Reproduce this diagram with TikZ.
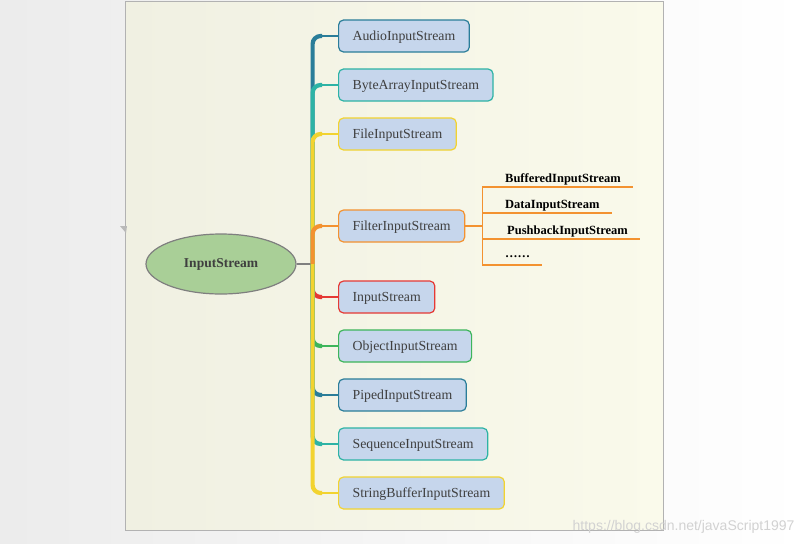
\documentclass[tikz,border=0pt]{standalone}
\usepackage{fontspec}
\setmainfont{Liberation Serif}
\newfontfamily\wmfont{Liberation Sans}
\usetikzlibrary{calc, positioning, shapes.geometric}
\definecolor{boxblue}{HTML}{C6D6EC}
\definecolor{boxtext}{HTML}{3F3F3F}
\definecolor{rootgreen}{HTML}{A9CF97}
\definecolor{rootline}{HTML}{7F7F7F}
\definecolor{cteal}{HTML}{2A7D99}
\definecolor{cturq}{HTML}{2DB3A5}
\definecolor{cyellow}{HTML}{F2D330}
\definecolor{corange}{HTML}{F39230}
\definecolor{cred}{HTML}{E53935}
\definecolor{cgreen}{HTML}{3DB55B}
\definecolor{panelleft}{HTML}{F0F0E2}
\definecolor{panelright}{HTML}{FAFAEB}

\begin{document}
\begin{tikzpicture}
		[x=1pt, y=-1pt,
		cls/.style={draw, rounded corners=5pt, fill=boxblue, line width=1.2pt, minimum height=32pt, inner xsep=14pt, text height=10pt, text depth=0.8pt, text=boxtext, font=\fontsize{13.8}{15}\selectfont},
		root/.style={ellipse, draw=rootline, line width=1.2pt, fill=rootgreen, minimum width=150pt, minimum height=60pt, text=boxtext, font=\bfseries\fontsize{13.5}{15}\selectfont},
		sub/.style={inner sep=2pt, anchor=south west, font=\bfseries\fontsize{12.5}{14}\selectfont},
		trunk/.style={line width=4.2pt, rounded corners=8pt},
		twig/.style={line width=1.8pt},
		subline/.style={corange, line width=1.4pt}]
		% page and panel
		\useasboundingbox (0,0) rectangle (804,544);
		\fill[left color=gray!15, right color=white] (0,0) rectangle (804,544);
		\draw[gray!60, line width=1pt, left color=panelleft, right color=panelright] (125,1) rectangle (663,530);
		\fill[gray!55] (120,226) -- (127,226) -- (126,233) -- cycle;

		\node[root] (root) at (221,264) {InputStream};
		\coordinate (hub) at ([xshift=16pt]root.east);

		\node[cls, draw=cteal, anchor=west] (audio) at (338,36) {AudioInputStream};
		\node[cls, draw=cturq, below=15.8pt of audio.south west, anchor=north west] (bytearr) {ByteArrayInputStream};
		\node[cls, draw=cyellow, below=15.8pt of bytearr.south west, anchor=north west] (file) {FileInputStream};
		\node[cls, draw=corange, below=58.8pt of file.south west, anchor=north west] (filter) {FilterInputStream};
		\node[cls, draw=cred, below=37.8pt of filter.south west, anchor=north west] (input) {InputStream};
		\node[cls, draw=cgreen, below=15.8pt of input.south west, anchor=north west] (object) {ObjectInputStream};
		\node[cls, draw=cteal, below=15.8pt of object.south west, anchor=north west] (piped) {PipedInputStream};
		\node[cls, draw=cturq, below=15.8pt of piped.south west, anchor=north west] (sequence) {SequenceInputStream};
		\node[cls, draw=cyellow, below=15.8pt of sequence.south west, anchor=north west] (strbuf) {StringBufferInputStream};

		% branches: upper ones far first, lower ones near first
		\draw[rootline, line width=1.6pt] (root.east) -- (hub);
		\foreach \n/\c in {audio/cteal, bytearr/cturq, file/cyellow, filter/corange, input/cred, object/cgreen, piped/cteal, sequence/cturq, strbuf/cyellow} {
			\draw[trunk, \c] (hub) |- ([xshift=-16pt]\n.west);
			\draw[twig, \c] ([xshift=-17pt]\n.west) -- (\n.west);
		}

		% subclasses of FilterInputStream
		\coordinate (fork) at ([xshift=17pt]filter.east);
		\node[sub] (buffered) at (503,187) {BufferedInputStream};
		\node[sub] (data) at (503,213) {DataInputStream};
		\node[sub] (pushback) at (505,239) {PushbackInputStream};
		\node[sub] (more) at (503,265) {\raisebox{5pt}{……}};

		\draw[subline] (filter.east) -- (fork);
		\draw[subline] (fork |- buffered.south) -- (fork |- more.south);
		\draw[subline] (fork |- buffered.south) -- ([xshift=10pt]buffered.south east);
		\draw[subline] (fork |- data.south) -- ([xshift=10pt]data.south east);
		\draw[subline] (fork |- pushback.south) -- ([xshift=10pt]pushback.south east);
		\draw[subline] (fork |- more.south) -- ([xshift=10pt]more.south east);

		\node[anchor=south east, text=gray!35, font=\wmfont\fontsize{14}{16}\selectfont] (mark) at (798,537) {https://blog.csdn.net/javaScript1997};
	\end{tikzpicture}
\end{document}
